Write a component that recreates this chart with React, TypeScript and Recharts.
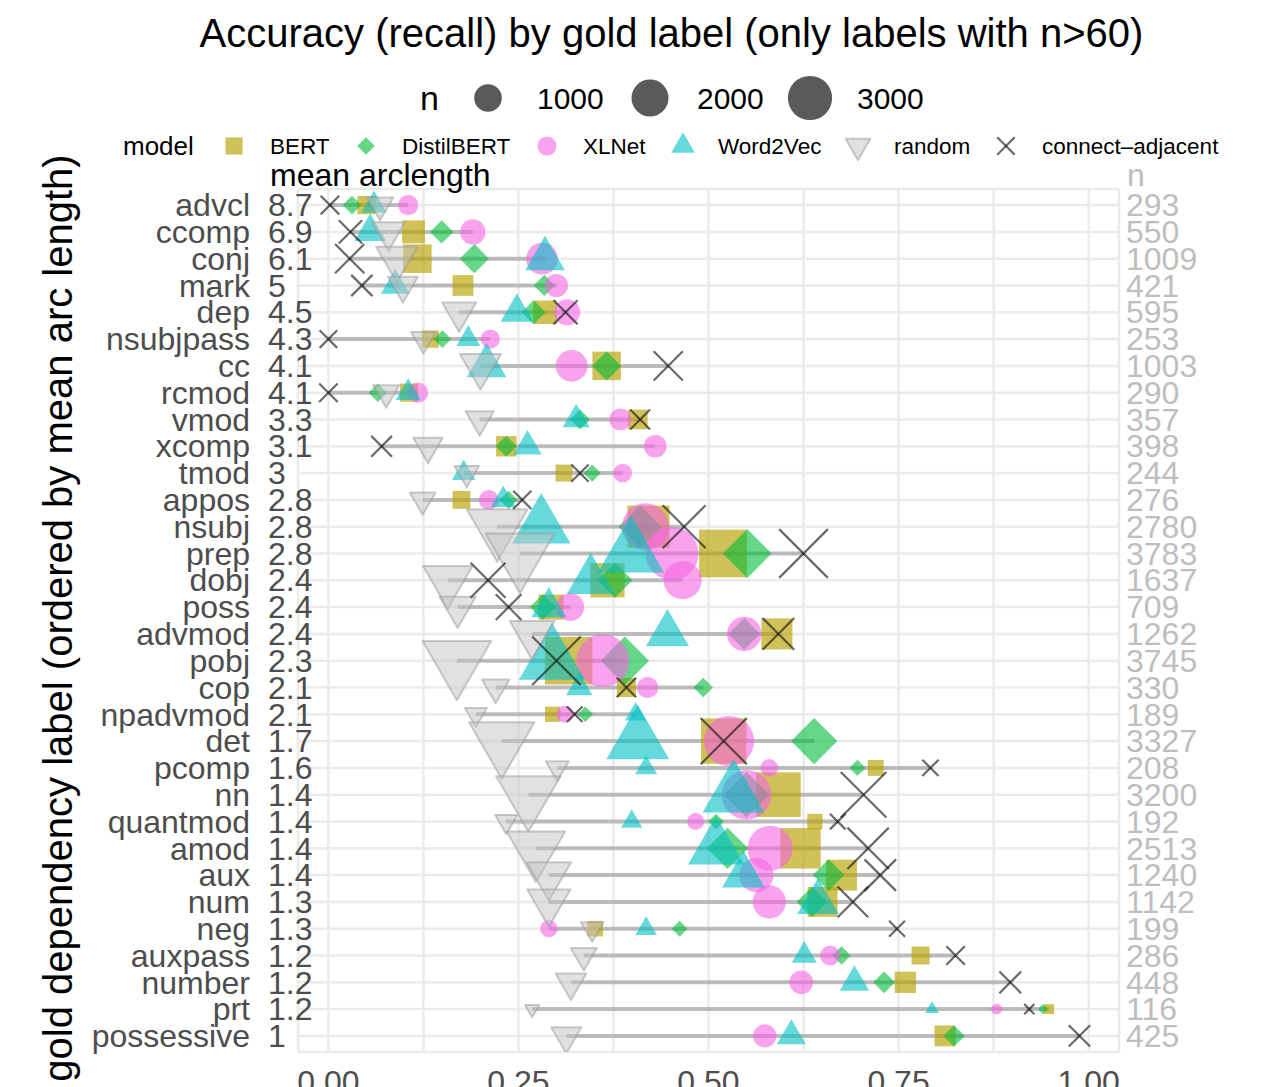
import React from "react";
import {
  ScatterChart,
  Scatter,
  XAxis,
  YAxis,
  CartesianGrid,
  ReferenceLine,
} from "recharts";

// gold labels, ordered by mean arc length
const labels = [
  "advcl", "ccomp", "conj", "mark", "dep", "nsubjpass", "cc", "rcmod",
  "vmod", "xcomp", "tmod", "appos", "nsubj", "prep", "dobj", "poss",
  "advmod", "pobj", "cop", "npadvmod", "det", "pcomp", "nn", "quantmod",
  "amod", "aux", "num", "neg", "auxpass", "number", "prt", "possessive",
];
const arcLength = [
  8.7, 6.9, 6.1, 5, 4.5, 4.3, 4.1, 4.1, 3.3, 3.1, 3, 2.8, 2.8, 2.8, 2.4, 2.4,
  2.4, 2.3, 2.1, 2.1, 1.7, 1.6, 1.4, 1.4, 1.4, 1.4, 1.3, 1.3, 1.2, 1.2, 1.2, 1,
];
const counts = [
  293, 550, 1009, 421, 595, 253, 1003, 290, 357, 398, 244, 276, 2780, 3783,
  1637, 709, 1262, 3745, 330, 189, 3327, 208, 3200, 192, 2513, 1240, 1142,
  199, 286, 448, 116, 425,
];

const bert = [
  0.05, 0.112, 0.117, 0.177, 0.285, 0.134, 0.366, 0.106, 0.407, 0.234, 0.31,
  0.175, 0.421, 0.519, 0.367, 0.293, 0.59, 0.316, 0.392, 0.295, 0.52, 0.72,
  0.592, 0.64, 0.621, 0.675, 0.65, 0.351, 0.779, 0.759, 0.948, 0.811,
];
const distilbert = [
  0.031, 0.149, 0.192, 0.284, 0.27, 0.15, 0.366, 0.065, 0.331, 0.234, 0.347,
  0.237, 0.41, 0.551, 0.377, 0.282, 0.547, 0.39, 0.493, 0.338, 0.639, 0.696,
  0.55, 0.51, 0.525, 0.658, 0.636, 0.462, 0.675, 0.731, 0.94, 0.823,
];
const xlnet = [
  0.105, 0.19, 0.281, 0.3, 0.314, 0.213, 0.32, 0.118, 0.384, 0.43, 0.387,
  0.211, 0.417, 0.452, 0.466, 0.318, 0.547, 0.361, 0.42, 0.311, 0.527, 0.58,
  0.55, 0.483, 0.581, 0.563, 0.58, 0.29, 0.66, 0.622, 0.879, 0.574,
];
const word2vec = [
  0.06, 0.055, 0.285, 0.088, 0.248, 0.184, 0.208, 0.105, 0.326, 0.262, 0.178,
  0.23, 0.28, 0.398, 0.345, 0.29, 0.446, 0.294, 0.33, 0.404, 0.407, 0.418,
  0.533, 0.399, 0.51, 0.546, 0.644, 0.418, 0.626, 0.692, 0.794, 0.609,
];
const random = [
  0.068, 0.079, 0.09, 0.098, 0.172, 0.125, 0.2, 0.076, 0.199, 0.131, 0.182,
  0.124, 0.222, 0.252, 0.157, 0.17, 0.268, 0.169, 0.22, 0.194, 0.228, 0.301,
  0.263, 0.234, 0.273, 0.29, 0.29, 0.347, 0.336, 0.319, 0.268, 0.313,
];
const adjacent = [
  0.002, 0.029, 0.028, 0.044, 0.312, 0.0, 0.447, 0.0, 0.41, 0.07, 0.331,
  0.255, 0.468, 0.625, 0.21, 0.237, 0.592, 0.3, 0.392, 0.324, 0.52, 0.792,
  0.704, 0.67, 0.71, 0.726, 0.69, 0.748, 0.825, 0.897, 0.922, 0.988,
];

const xTicks = [0, 0.125, 0.25, 0.375, 0.5, 0.625, 0.75, 0.875, 1];
const sizeBreaks = [1000, 2000, 3000];

const FONT = '"Liberation Sans", Arial, Helvetica, sans-serif';

type Kind = "square" | "diamond" | "circle" | "triangle" | "down" | "cross";

const models: { name: string; values: number[]; color: string; kind: Kind }[] = [
  { name: "BERT", values: bert, color: "#B79F00", kind: "square" },
  { name: "DistilBERT", values: distilbert, color: "#00BA38", kind: "diamond" },
  { name: "XLNet", values: xlnet, color: "#F564E3", kind: "circle" },
  { name: "Word2Vec", values: word2vec, color: "#00BFC4", kind: "triangle" },
  { name: "random", values: random, color: "#c4c4c4", kind: "down" },
  { name: "connect\u2013adjacent", values: adjacent, color: "#1a1a1a", kind: "cross" },
];

const nMin = Math.min(...counts);
const nMax = Math.max(...counts);
const markSize = (n: number) =>
  11 + 42 * Math.sqrt(Math.max(0, n - nMin) / (nMax - nMin));

const rows = labels.map((_, i) => i);
const lows = rows.map((i) => Math.min(...models.map((m) => m.values[i])));
const highs = rows.map((i) => Math.max(...models.map((m) => m.values[i])));

function Mark({ kind, cx, cy, d, color }: { kind: Kind; cx: number; cy: number; d: number; color: string }) {
  if (cx == null || cy == null) return <g />;
  switch (kind) {
    case "square": {
      const s = d * 0.9;
      return <rect x={cx - s / 2} y={cy - s / 2} width={s} height={s} fill={color} fillOpacity={0.65} />;
    }
    case "diamond": {
      const h = d * 0.46;
      return (
        <polygon
          points={`${cx},${cy - h} ${cx + h},${cy} ${cx},${cy + h} ${cx - h},${cy}`}
          fill={color}
          fillOpacity={0.6}
        />
      );
    }
    case "circle":
      return <circle cx={cx} cy={cy} r={d / 2} fill={color} fillOpacity={0.6} />;
    case "triangle": {
      const w = d * 1.25;
      const h = w * 0.866;
      return (
        <polygon
          points={`${cx},${cy - (2 * h) / 3} ${cx + w / 2},${cy + h / 3} ${cx - w / 2},${cy + h / 3}`}
          fill={color}
          fillOpacity={0.6}
        />
      );
    }
    case "down": {
      const w = d * 1.3;
      const h = w * 0.866;
      return (
        <polygon
          points={`${cx},${cy + (2 * h) / 3} ${cx + w / 2},${cy - h / 3} ${cx - w / 2},${cy - h / 3}`}
          fill={color}
          fillOpacity={0.5}
          stroke="#9a9a9a"
          strokeOpacity={0.5}
          strokeWidth={2}
          strokeLinejoin="round"
        />
      );
    }
    default: {
      const h = d * 0.46;
      return (
        <g stroke={color} strokeOpacity={0.65} strokeWidth={2.2}>
          <line x1={cx - h} y1={cy - h} x2={cx + h} y2={cy + h} />
          <line x1={cx - h} y1={cy + h} x2={cx + h} y2={cy - h} />
        </g>
      );
    }
  }
}

const XTick = ({ x, y, payload }: any) => {
  const v = payload.value as number;
  if (Math.abs(v * 4 - Math.round(v * 4)) > 1e-6) return <g />;
  return (
    <text x={x} y={y + 39} textAnchor="middle" fontSize={32} fill="#4d4d4d" fontFamily={FONT}>
      {v.toFixed(2)}
    </text>
  );
};

const LeftTick = ({ x, y, payload }: any) => {
  const i = payload.value as number;
  return (
    <g fontFamily={FONT} fontSize={32} fill="#4d4d4d">
      <text x={x - 46} y={y} dy="0.35em" textAnchor="end">{labels[i]}</text>
      <text x={x - 28} y={y} dy="0.35em" textAnchor="start">{String(arcLength[i])}</text>
    </g>
  );
};

const RightTick = ({ x, y, payload }: any) => {
  const i = payload.value as number;
  return (
    <text x={x + 5} y={y} dy="0.35em" textAnchor="start" fontFamily={FONT} fontSize={32} fill="#bebebe">
      {counts[i]}
    </text>
  );
};

function Overlay() {
  const keyY = 146;
  const modelKeys = [234, 366, 547, 683, 858, 1006];
  const modelText = [270, 402, 583, 718, 894, 1042];
  const nKeys = [488, 650, 810];
  const nText = [537, 697, 857];
  return (
    <svg width={1263} height={1087} style={{ position: "absolute", left: 0, top: 0, pointerEvents: "none" }} fontFamily={FONT}>
      <text x={671.5} y={47} textAnchor="middle" fontSize={40} fill="#000">
        Accuracy (recall) by gold label (only labels with n&gt;60)
      </text>
      <text x={420} y={110} fontSize={34} fill="#000">n</text>
      {sizeBreaks.map((b, k) => (
        <g key={b}>
          <circle cx={nKeys[k]} cy={98} r={markSize(b) / 2 - 2} fill="#5a5a5a" />
          <text x={nText[k]} y={109} fontSize={30} fill="#000">{b}</text>
        </g>
      ))}
      <text x={123} y={155} fontSize={26} fill="#000">model</text>
      {models.map((m, k) => (
        <g key={m.name}>
          <Mark kind={m.kind} cx={modelKeys[k]} cy={keyY} d={19} color={m.color} />
          <text x={modelText[k]} y={154} fontSize={22.5} fill="#000">{m.name}</text>
        </g>
      ))}
      <text x={270} y={186} fontSize={32} fill="#000">mean arclength</text>
      <text x={1127} y={186} fontSize={32} fill="#bebebe">n</text>
      <text
        x={72}
        y={618}
        transform="rotate(-90 72 618)"
        textAnchor="middle"
        fontSize={40}
        fill="#000"
      >
        gold dependency label (ordered by mean arc length)
      </text>
    </svg>
  );
}

export default function App() {
  return (
    <div style={{ position: "absolute", left: 0, top: 0, width: 1263, height: 1087, background: "#fff", overflow: "hidden" }}>
      <ScatterChart width={1263} height={1087} margin={{ top: 189, right: 0, bottom: 0, left: 0 }}>
        <CartesianGrid stroke="#ebebeb" strokeWidth={2.5} />
        <XAxis
          type="number"
          dataKey="x"
          domain={[-0.04, 1.04]}
          ticks={xTicks}
          interval={0}
          allowDataOverflow
          tickLine={false}
          axisLine={false}
          tickSize={0}
          height={35}
          tick={XTick}
        />
        <YAxis
          type="number"
          dataKey="y"
          domain={[-0.6, 31.6]}
          reversed
          ticks={rows}
          interval={0}
          allowDataOverflow
          tickLine={false}
          axisLine={false}
          tickSize={0}
          width={298}
          tick={LeftTick}
        />
        <YAxis
          yAxisId="right"
          orientation="right"
          type="number"
          domain={[-0.6, 31.6]}
          reversed
          ticks={rows}
          interval={0}
          allowDataOverflow
          tickLine={false}
          axisLine={false}
          tickSize={0}
          width={144}
          tick={RightTick}
        />
        {rows.map((i) => (
          <ReferenceLine
            key={`range-${i}`}
            segment={[
              { x: lows[i], y: i },
              { x: highs[i], y: i },
            ]}
            stroke="#9e9e9e"
            strokeOpacity={0.65}
            strokeWidth={4}
          />
        ))}
        {models.map((m) => (
          <Scatter
            key={m.name}
            name={m.name}
            data={rows.map((i) => ({ x: m.values[i], y: i, n: counts[i] }))}
            isAnimationActive={false}
            shape={(p: any) => (
              <Mark
                kind={m.kind}
                cx={p.cx}
                cy={p.cy}
                d={markSize(p.payload?.n ?? p.n)}
                color={m.color}
              />
            )}
          />
        ))}
      </ScatterChart>
      <Overlay />
    </div>
  );
}
